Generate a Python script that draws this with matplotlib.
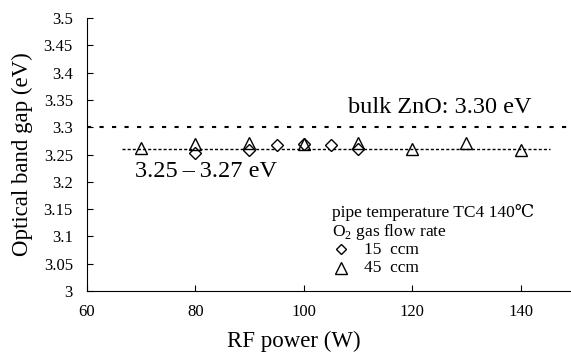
import matplotlib
matplotlib.use("Agg")
import matplotlib.pyplot as plt

plt.rcParams['font.family'] = ['Liberation Serif', 'DejaVu Serif']
plt.rcParams['mathtext.fontset'] = 'custom'
plt.rcParams['mathtext.rm'] = 'Liberation Serif'

# O2 gas flow rate 15 ccm
power_15 = [80, 90, 95, 100, 105, 110]
gap_15 = [3.252, 3.258, 3.267, 3.270, 3.267, 3.260]

# O2 gas flow rate 45 ccm
power_45 = [70, 80, 90, 100, 110, 120, 130, 140]
gap_45 = [3.262, 3.270, 3.271, 3.270, 3.271, 3.260, 3.271, 3.258]

bulk_gap = 3.30
mean_gap = 3.26

yticks = [3.0, 3.05, 3.1, 3.15, 3.2, 3.25, 3.3, 3.35, 3.4, 3.45, 3.5]
ytick_labels = ["3", "3.05", "3.1", "3.15", "3.2", "3.25", "3.3", "3.35", "3.4", "3.45", "3.5"]
xticks = [60, 80, 100, 120, 140]

fig = plt.figure(figsize=(5.71, 3.59), dpi=100)
ax = fig.add_axes([0.152, 0.1894, 0.8546, 0.7604])

# reference lines
ax.plot([60, 150], [bulk_gap, bulk_gap], color='black', lw=1.5, linestyle=(0, (2, 4)))
ax.plot([66.5, 145.5], [mean_gap, mean_gap], color='black', lw=1.0, linestyle=(0, (2.2, 1.5)))

ax.plot(power_15, gap_15, linestyle='none', marker='D', markersize=6.5,
        markerfacecolor='white', markeredgecolor='black', markeredgewidth=1.0, zorder=3)
ax.plot(power_45, gap_45, linestyle='none', marker='^', markersize=9,
        markerfacecolor='none', markeredgecolor='black', markeredgewidth=1.0, zorder=4)

ax.set_xlim(60, 150)
ax.set_ylim(3.0, 3.5)
ax.set_xticks(xticks)
ax.set_yticks(yticks)
ax.set_yticklabels(ytick_labels)
ax.tick_params(direction='in', length=4, labelsize=12, width=0.8)
ax.tick_params(axis='y', pad=10)
ax.tick_params(axis='x', pad=9)
ax.spines['top'].set_visible(False)
ax.spines['right'].set_visible(False)

ax.set_xlabel("RF power (W)", fontsize=16.5)
ax.set_ylabel("Optical band gap (eV)", fontsize=16.5)
ax.xaxis.set_label_coords(0.425, -0.145)
ax.yaxis.set_label_coords(-0.11, 0.5)

ax.text(108.1, 3.337, "bulk ZnO: 3.30 eV", fontsize=17.5, va='center')
ax.text(68.8, 3.218, "3.25\u2009\u2013\u20093.27 eV", fontsize=17.5, va='center')

ax.text(105.3, 3.143, "pipe temperature TC4 140\u2103", fontsize=12.5, va='center')
ax.text(105.3, 3.108, "O$_\\mathrm{2}$ gas flow rate", fontsize=12.5, va='center')
ax.plot([106.8], [3.077], marker='D', markersize=5.5, markerfacecolor='white',
        markeredgecolor='black', markeredgewidth=1.0, clip_on=False)
ax.text(111.2, 3.075, "15  ccm", fontsize=12.5, va='center')
ax.plot([106.8], [3.043], marker='^', markersize=8, markerfacecolor='none',
        markeredgecolor='black', markeredgewidth=1.0, clip_on=False)
ax.text(111.2, 3.042, "45  ccm", fontsize=12.5, va='center')

fig.savefig("out.png", dpi=100)
